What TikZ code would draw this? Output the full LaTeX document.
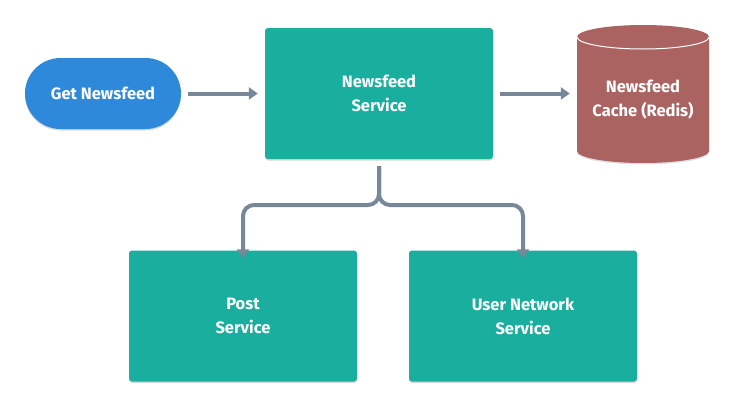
\documentclass[tikz,border=0pt]{standalone}
\usepackage{fontspec}
\setmainfont{Fira Sans}
\usetikzlibrary{arrows.meta,shadows}
\definecolor{teal}{RGB}{26,174,159}
\definecolor{pill}{RGB}{46,137,218}
\definecolor{cyl}{RGB}{171,99,98}
\definecolor{conn}{RGB}{119,136,153}
\tikzset{
  lbl/.style={text=white, font=\bfseries\fontsize{16.5}{24}\selectfont, align=center, inner sep=0pt},
  svc/.style={lbl, fill=teal, rounded corners=3pt, minimum width=228pt, minimum height=131pt,
    drop shadow={shadow xshift=0pt, shadow yshift=-1.5pt, opacity=0.15, fill=black}},
  conn/.style={draw=conn, line width=4pt, -{Triangle[width=12pt,length=9pt]}},
}
\begin{document}
\begin{tikzpicture}[x=1pt,y=-1pt]
\useasboundingbox (0,0) rectangle (734,407);
% Get Newsfeed
\node[lbl, fill=pill, rounded corners=35.5pt, minimum width=156pt, minimum height=71pt,
  drop shadow={shadow xshift=0pt, shadow yshift=-1.5pt, opacity=0.15, fill=black}]
  (get) at (103,93.5) {Get Newsfeed};
% Newsfeed service
\node[svc] (nfs) at (379,93.5) {Newsfeed\\Service};
% Post / User network
\node[svc] (post) at (243,316) {Post\\Service};
\node[svc] (user) at (523,316) {User Network\\Service};
% Cylinder
\fill[black, opacity=0.12] (577,38.5) -- (577,152.5) arc[start angle=180,end angle=360,x radius=66,y radius=-12] -- (709,38.5) -- cycle;
\fill[cyl] (577,37) -- (577,151) arc[start angle=180,end angle=360,x radius=66,y radius=-12] -- (709,37) arc[start angle=0,end angle=180,x radius=66,y radius=-12] -- cycle;
\draw[white, line width=1pt] (577,37) arc[start angle=180,end angle=360,x radius=66,y radius=-12];
\node[lbl, minimum width=132pt, minimum height=138pt] (cache) at (643,100) {Newsfeed\\Cache (Redis)};
% connectors
\draw[conn] ([xshift=7pt]get.east) -- ([xshift=-7pt]nfs.west);
\draw[conn] ([xshift=7pt]nfs.east) -- ([xshift=-7pt]nfs.east -| cache.west);
\coordinate (split) at (379,205);
\draw[conn, rounded corners=11pt] ([yshift=-7pt]nfs.south) -- (split) -| ([yshift=-8pt]post.north);
\draw[conn, rounded corners=11pt] ([yshift=-7pt]nfs.south) -- (split) -| ([yshift=-8pt]user.north);
\end{tikzpicture}
\end{document}
